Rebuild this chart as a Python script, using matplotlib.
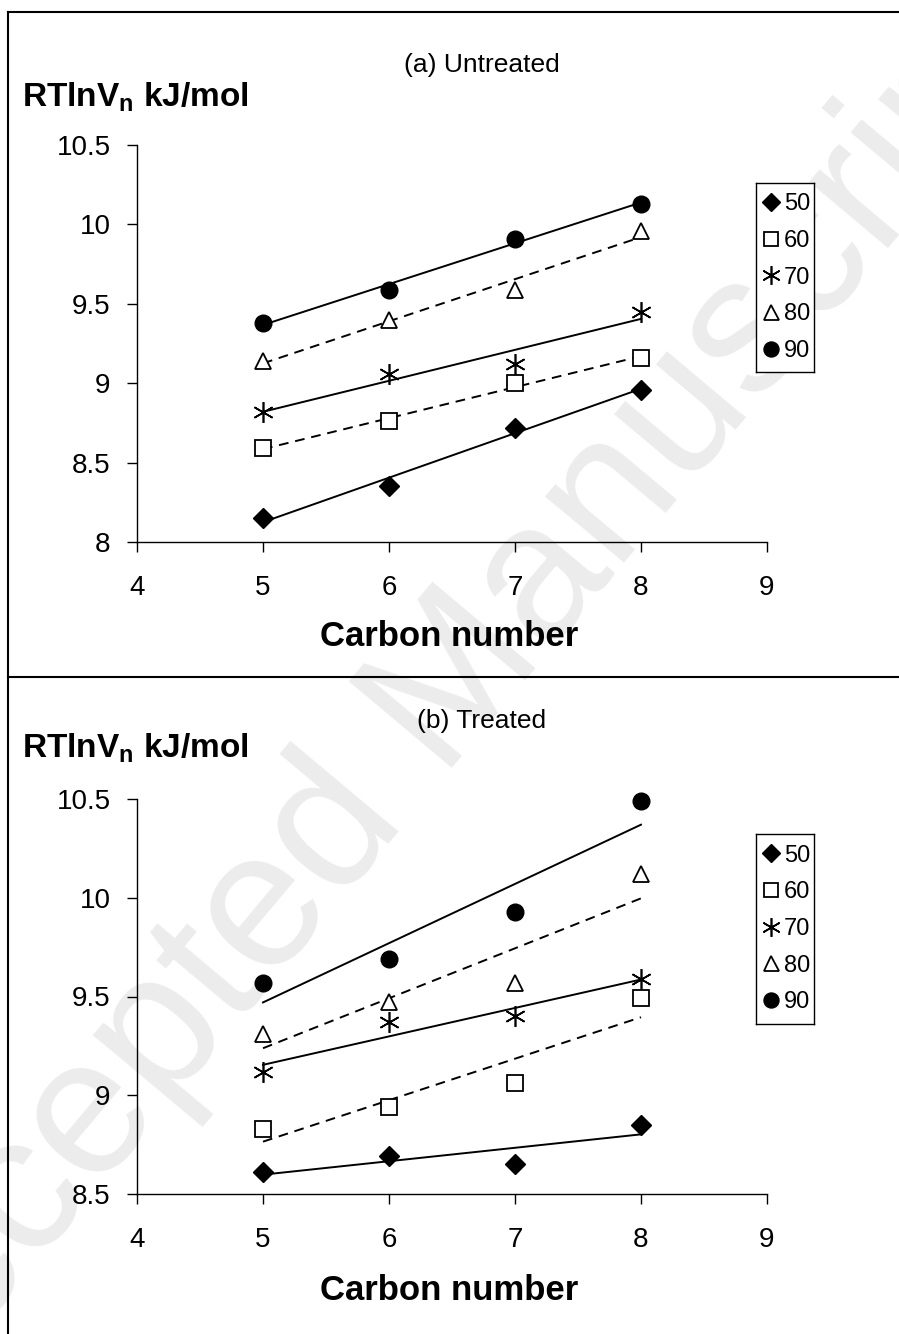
"""
Retention free energy (RT ln Vn) vs carbon number, untreated and treated,
with linear trend lines per temperature.
"""

import numpy as np
import matplotlib
matplotlib.use("Agg")
import matplotlib.pyplot as plt
from matplotlib.lines import Line2D

plt.rcParams["font.family"] = ["Liberation Sans", "DejaVu Sans"]

# ── Data ──────────────────────────────────────────────────────────────────────
carbon = [5, 6, 7, 8]
temps  = ["50", "60", "70", "80", "90"]

untreated_50 = [8.15, 8.35, 8.72, 8.96]
untreated_60 = [8.59, 8.76, 9.00, 9.16]
untreated_70 = [8.82, 9.06, 9.12, 9.45]
untreated_80 = [9.14, 9.40, 9.59, 9.96]
untreated_90 = [9.38, 9.59, 9.91, 10.13]

treated_50 = [8.61, 8.69, 8.65, 8.85]
treated_60 = [8.83, 8.94, 9.06, 9.49]
treated_70 = [9.12, 9.37, 9.40, 9.59]
treated_80 = [9.31, 9.47, 9.57, 10.12]
treated_90 = [9.57, 9.69, 9.93, 10.49]

# ── Styles ────────────────────────────────────────────────────────────────────
MARKERS = {
    "50": dict(marker="D", mfc="black", mec="black", ms=10),
    "60": dict(marker="s", mfc="white", mec="black", ms=11, mew=1.3),
    "70": dict(marker=(6, 2, 0), mfc="black", mec="black", ms=15, mew=1.2),
    "80": dict(marker="^", mfc="white", mec="black", ms=12, mew=1.3),
    "90": dict(marker="o", mfc="black", mec="black", ms=12),
}
LINESTYLE = {"50": "-", "60": (0, (5, 3.5)), "70": "-", "80": (0, (5, 3.5)), "90": "-"}


def draw_panel(fig, rect, series, ylim, yticks, title, title_y, ylab_y, xlab_y, leg_rect):
    ax = fig.add_axes(rect, zorder=2)
    ax.patch.set_alpha(0)
    x = np.array(carbon, dtype=float)
    for t, y in zip(temps, series):
        slope, icpt = np.polyfit(x, y, 1)
        ax.plot(x, slope * x + icpt, color="black", lw=1.4, ls=LINESTYLE[t], zorder=2)
        ax.plot(x, y, ls="none", zorder=3, clip_on=False, **MARKERS[t])

    ax.set_xlim(4, 9)
    ax.set_ylim(*ylim)
    ax.set_xticks([4, 5, 6, 7, 8, 9])
    ax.set_yticks(yticks)
    ax.set_yticklabels([f"{v:g}" for v in yticks])
    ax.tick_params(direction="out", length=7, width=1, labelsize=20, pad=12)
    ax.tick_params(axis="x", pad=17)
    for s in ["top", "right"]:
        ax.spines[s].set_visible(False)
    for s in ["left", "bottom"]:
        ax.spines[s].set_linewidth(1)

    fig.text(0.536, title_y, title, ha="center", va="center", fontsize=19)
    fig.text(0.024, ylab_y, r"RTlnV$_\mathregular{n}$ kJ/mol", ha="left", va="center",
             fontsize=24, fontweight="bold")
    fig.text(0.50, xlab_y, "Carbon number", ha="center", va="center",
             fontsize=25, fontweight="bold")

    # legend in its own little box
    lax = fig.add_axes(leg_rect, zorder=3)
    lax.set_xticks([])
    lax.set_yticks([])
    lax.set_facecolor("white")
    for s in lax.spines.values():
        s.set_linewidth(1)
    handles = [Line2D([], [], ls="none", **{**MARKERS[t], "ms": MARKERS[t]["ms"] * 0.9}) for t in temps]
    lax.legend(handles, temps, loc="center", frameon=False, fontsize=17,
               handletextpad=0.05, handlelength=1.0, labelspacing=0.62, borderpad=0)
    return ax


fig = plt.figure(figsize=(8.99, 13.34), dpi=100)

# watermark
fig.text(0.48, 0.465, "Accepted Manuscript", rotation=50, ha="center", va="center",
         fontsize=140, color="#ececec", zorder=0)

# panel frame lines
W, H = 899, 1334
fig.add_artist(Line2D([8 / W, 8 / W], [0, 1 - 12 / H], color="black", lw=1.5))
fig.add_artist(Line2D([8 / W, 1], [1 - 12 / H, 1 - 12 / H], color="black", lw=1.5))
fig.add_artist(Line2D([8 / W, 1], [1 - 677 / H, 1 - 677 / H], color="black", lw=1.5))

draw_panel(fig, [137 / W, 1 - 542 / H, 630 / W, 397 / H],
           [untreated_50, untreated_60, untreated_70, untreated_80, untreated_90],
           (8, 10.5), [8, 8.5, 9, 9.5, 10, 10.5], "(a) Untreated",
           1 - 65 / H, 1 - 97 / H, 1 - 637 / H,
           [756 / W, 1 - 372 / H, 58 / W, 189 / H])

draw_panel(fig, [137 / W, 1 - 1194 / H, 630 / W, 395 / H],
           [treated_50, treated_60, treated_70, treated_80, treated_90],
           (8.5, 10.5), [8.5, 9, 9.5, 10, 10.5], "(b) Treated",
           1 - 721 / H, 1 - 748 / H, 1 - 1290 / H,
           [756 / W, 1 - 1024 / H, 58 / W, 190 / H])

fig.savefig("out.png", dpi=100)
